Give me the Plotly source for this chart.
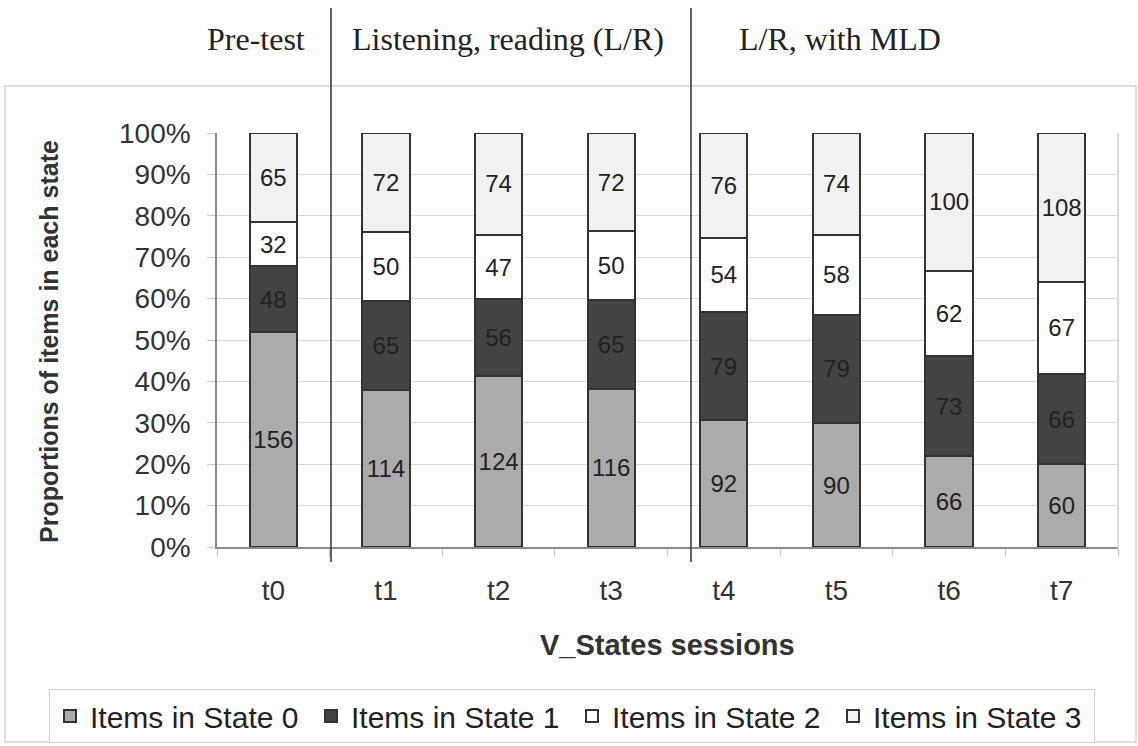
import plotly.graph_objects as go

# Sessions and item counts per state
sessions = ["t0", "t1", "t2", "t3", "t4", "t5", "t6", "t7"]
state0 = [156, 114, 124, 116, 92, 90, 66, 60]
state1 = [48, 65, 56, 65, 79, 79, 73, 66]
state2 = [32, 50, 47, 50, 54, 58, 62, 67]
state3 = [65, 72, 74, 72, 76, 74, 100, 108]

series_names = ["Items in State 0", "Items in State 1", "Items in State 2", "Items in State 3"]
series_values = [state0, state1, state2, state3]
series_colors = ["#ababab", "#434343", "#ffffff", "#f1f1f1"]

phase_labels = ["Pre-test", "Listening, reading (L/R)", "L/R, with MLD"]
y_ticks = [0, 10, 20, 30, 40, 50, 60, 70, 80, 90, 100]
y_tick_labels = ["0%", "10%", "20%", "30%", "40%", "50%", "60%", "70%", "80%", "90%", "100%"]

# figure geometry (pixels)
W, H = 1138, 746
PL, PR, PT, PB = 217, 1118, 133, 547


def px(x):
    return (x - PL) / (PR - PL)


def py(y):
    return (PB - y) / (PB - PT)


fig = go.Figure()
for name, vals, col in zip(series_names, series_values, series_colors):
    fig.add_trace(go.Bar(
        x=sessions, y=vals, name=name,
        marker=dict(color=col, line=dict(color="#333333", width=2)),
        text=vals, texttemplate="%{text}",
        textposition="inside", insidetextanchor="middle",
        constraintext="none",
        textfont=dict(family="Liberation Sans, Arial", size=24, color="#222222"),
        width=0.42,
    ))

fig.update_layout(
    width=W, height=H,
    margin=dict(l=PL, r=W - PR, t=PT, b=H - PB, autoexpand=False),
    barmode="stack", barnorm="percent",
    paper_bgcolor="white", plot_bgcolor="white",
    showlegend=True,
    legend=dict(
        orientation="h", x=px(49), y=py(716), xanchor="left", yanchor="middle",
        font=dict(family="Liberation Sans, Arial", size=30, color="#222222"),
        bordercolor="#d4d4d4", borderwidth=1, bgcolor="white",
        traceorder="normal", itemwidth=30,
        entrywidth=216, entrywidthmode="pixels",
    ),
    xaxis=dict(
        range=[-0.5, 7.5], showgrid=False,
        showline=True, linecolor="#8a8a8a", linewidth=1.5,
        ticks="outside", tickson="boundaries", ticklen=8, tickcolor="#c8c8c8",
        tickfont=dict(family="Liberation Sans, Arial", size=28, color="#333333"),
        ticklabelstandoff=18,
    ),
    yaxis=dict(
        range=[0, 100], tickmode="array", tickvals=y_ticks, ticktext=y_tick_labels,
        showgrid=True, gridcolor="#d9d9d9", gridwidth=1,
        showline=True, linecolor="#8a8a8a", linewidth=1.5,
        ticks="outside", ticklen=8, tickcolor="#c8c8c8",
        tickfont=dict(family="Liberation Sans, Arial", size=28, color="#333333"),
        ticklabelstandoff=11,
        zeroline=False,
    ),
)

# right border of the plot area
fig.add_shape(type="line", xref="paper", yref="paper", x0=1, x1=1, y0=0, y1=1,
              line=dict(color="#d0d0d0", width=1.5))
# outer chart frame
fig.add_shape(type="rect", xref="paper", yref="paper",
              x0=px(5), x1=px(1136), y0=py(742), y1=py(86),
              line=dict(color="#d4d4d4", width=1.5), layer="below")

# phase separators
for xpix in (331, 691):
    fig.add_shape(type="line", xref="paper", yref="paper",
                  x0=px(xpix), x1=px(xpix), y0=py(562), y1=py(8),
                  line=dict(color="#333333", width=1.5))

# phase headers
for label, xc in zip(phase_labels, (256, 508, 840)):
    fig.add_annotation(text=label, xref="paper", yref="paper", x=px(xc), y=py(39),
                       xanchor="center", yanchor="middle", showarrow=False,
                       font=dict(family="Liberation Serif, Times New Roman", size=32, color="#222222"))

# axis titles
fig.add_annotation(text="<b>V_States sessions</b>", xref="paper", yref="paper",
                   x=px(667), y=py(645), xanchor="center", yanchor="middle", showarrow=False,
                   font=dict(family="Liberation Sans, Arial", size=29, color="#333333"))
fig.add_annotation(text="<b>Proportions of items in each state</b>", xref="paper", yref="paper",
                   x=px(49), y=py(342), xanchor="center", yanchor="middle", showarrow=False,
                   textangle=-90,
                   font=dict(family="Liberation Sans, Arial", size=25, color="#333333"))

fig.write_html("out.html")
